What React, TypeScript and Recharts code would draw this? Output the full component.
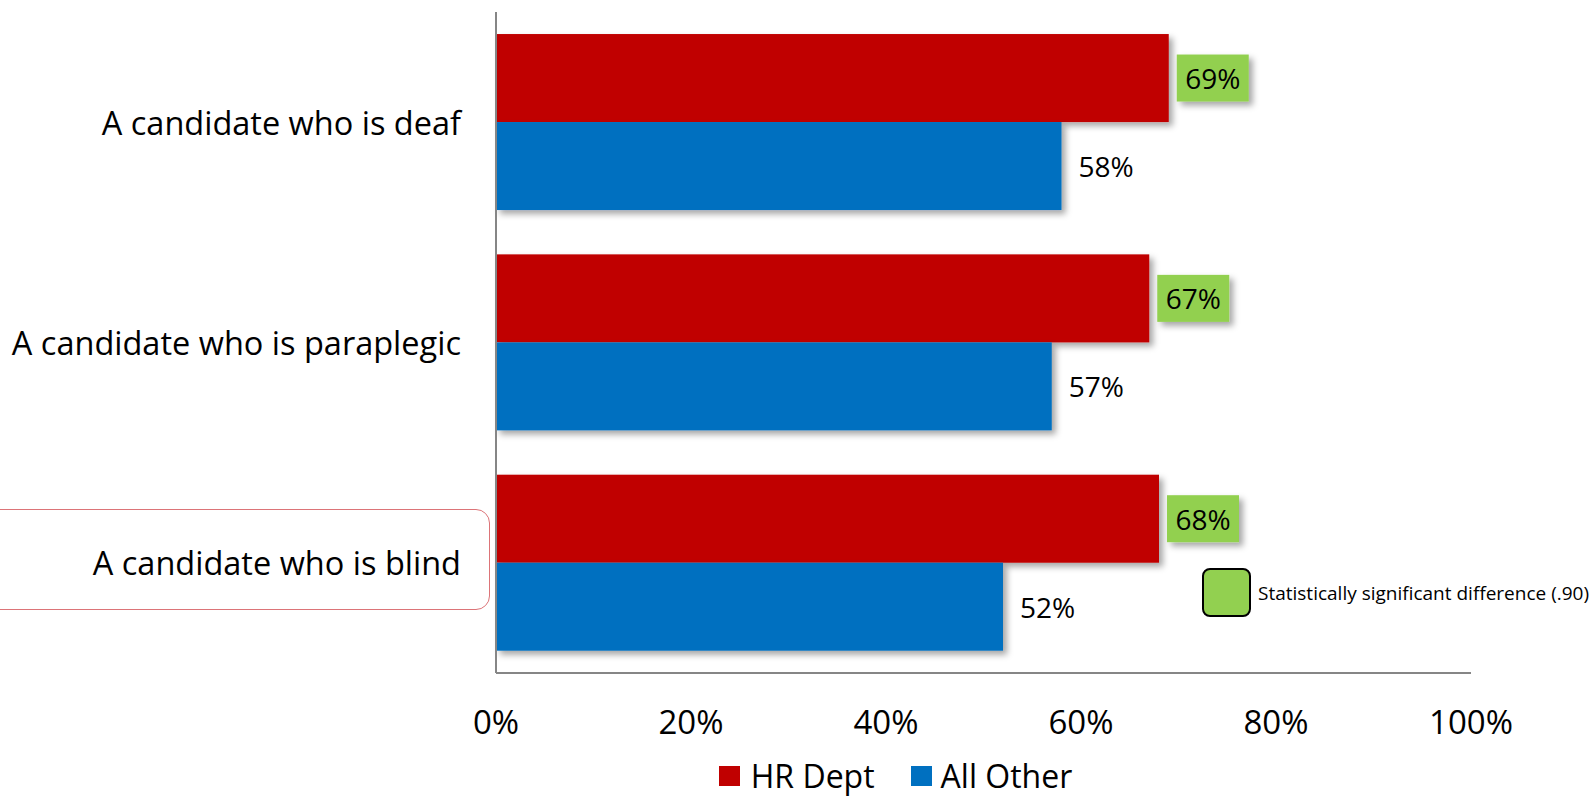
import { BarChart, Bar, XAxis, YAxis, LabelList, Legend } from "recharts";

const categories = ["A candidate who is deaf", "A candidate who is paraplegic", "A candidate who is blind"];
const hrDept = [69, 67, 68];
const allOther = [58, 57, 52];
const xTicks = [0, 20, 40, 60, 80, 100];

const RED = "#C00000";
const BLUE = "#0070C0";
const GREEN = "#92D050";
const FONT = "'Open Sans', sans-serif";

const data = categories.map((name, i) => ({ name, hr: hrDept[i], other: allOther[i] }));

const ShadowBar = (props: any) => {
  const { x, y, width, height, fill } = props;
  return <rect x={x} y={y} width={width} height={height} fill={fill} filter="url(#barShadow)" />;
};

const GreenLabel = (props: any) => {
  const { x, y, width, height, value } = props;
  const bx = x + width + 8;
  const cy = y + height / 2;
  return (
    <g>
      <rect x={bx} y={cy - 23.5} width={72} height={47} fill={GREEN} filter="url(#boxShadow)" />
      <text x={bx + 36} y={cy} textAnchor="middle" dominantBaseline="central" fontSize={28} fontFamily={FONT} fill="#000">
        {value}%
      </text>
    </g>
  );
};

const PlainLabel = (props: any) => {
  const { x, y, width, height, value } = props;
  return (
    <text x={x + width + 17} y={y + height / 2} dominantBaseline="central" fontSize={28} fontFamily={FONT} fill="#000">
      {value}%
    </text>
  );
};

const CategoryTick = ({ x, y, payload }: any) => (
  <text x={x - 35} y={y} textAnchor="end" dominantBaseline="central" fontSize={32.5} fontFamily={FONT} fill="#000">
    {payload.value}
  </text>
);

const PercentTick = ({ x, y, payload }: any) => (
  <text x={x} y={y + 48} textAnchor="middle" dominantBaseline="central" fontSize={33} fontFamily={FONT} fill="#000">
    {payload.value}%
  </text>
);

const LegendContent = () => (
  <div style={{ height: 46, display: "flex", justifyContent: "center", alignItems: "center", gap: 36, fontFamily: FONT, fontSize: 32, lineHeight: "26px", color: "#000", paddingLeft: 320, paddingTop: 6, boxSizing: "border-box" }}>
    <span style={{ display: "flex", alignItems: "center", gap: 11 }}>
      <span style={{ width: 21, height: 20, background: RED, display: "inline-block" }} />
      <span>HR Dept</span>
    </span>
    <span style={{ display: "flex", alignItems: "center", gap: 9 }}>
      <span style={{ width: 21, height: 20, background: BLUE, display: "inline-block" }} />
      <span>All Other</span>
    </span>
  </div>
);

export default function App() {
  return (
    <div style={{ position: "absolute", left: 0, top: 0, width: 1593, height: 796, background: "#fff", overflow: "hidden" }}>
      <BarChart
        width={1593}
        height={796}
        layout="vertical"
        data={data}
        margin={{ top: 12, right: 122, bottom: 0, left: 0 }}
        barCategoryGap="10%"
        barGap={0}
      >
        <defs>
          <filter id="barShadow" x="-5%" y="-10%" width="115%" height="130%">
            <feDropShadow dx={4} dy={4} stdDeviation={3} floodColor="#000" floodOpacity={0.35} />
          </filter>
          <filter id="boxShadow" x="-20%" y="-20%" width="150%" height="150%">
            <feDropShadow dx={4} dy={4} stdDeviation={3} floodColor="#000" floodOpacity={0.35} />
          </filter>
        </defs>
        <XAxis
          type="number"
          domain={[0, 100]}
          ticks={xTicks}
          height={77}
          tickLine={false}
          tickSize={0}
          tickMargin={0}
          axisLine={{ stroke: "#868686", strokeWidth: 2 }}
          tick={<PercentTick />}
          interval={0}
        />
        <YAxis
          type="category"
          dataKey="name"
          width={496}
          tickLine={false}
          tickSize={0}
          tickMargin={0}
          axisLine={{ stroke: "#868686", strokeWidth: 2 }}
          tick={<CategoryTick />}
          interval={0}
        />
        <Legend verticalAlign="bottom" height={46} content={<LegendContent />} />
        <Bar dataKey="hr" name="HR Dept" fill={RED} shape={<ShadowBar />} isAnimationActive={false}>
          <LabelList dataKey="hr" content={<GreenLabel />} />
        </Bar>
        <Bar dataKey="other" name="All Other" fill={BLUE} shape={<ShadowBar />} isAnimationActive={false}>
          <LabelList dataKey="other" content={<PlainLabel />} />
        </Bar>
      </BarChart>

      <div
        style={{
          position: "absolute",
          left: -20,
          top: 509,
          width: 508,
          height: 99,
          border: "1.5px solid #DC7478",
          borderRadius: 14,
          pointerEvents: "none",
        }}
      />

      <div style={{ position: "absolute", left: 1202, top: 568, display: "flex", alignItems: "center", gap: 7, fontFamily: FONT, fontSize: 19, color: "#000", whiteSpace: "nowrap" }}>
        <span style={{ width: 45, height: 45, background: GREEN, border: "2px solid #000", borderRadius: 8, display: "inline-block" }} />
        Statistically significant difference (.90)
      </div>
    </div>
  );
}
